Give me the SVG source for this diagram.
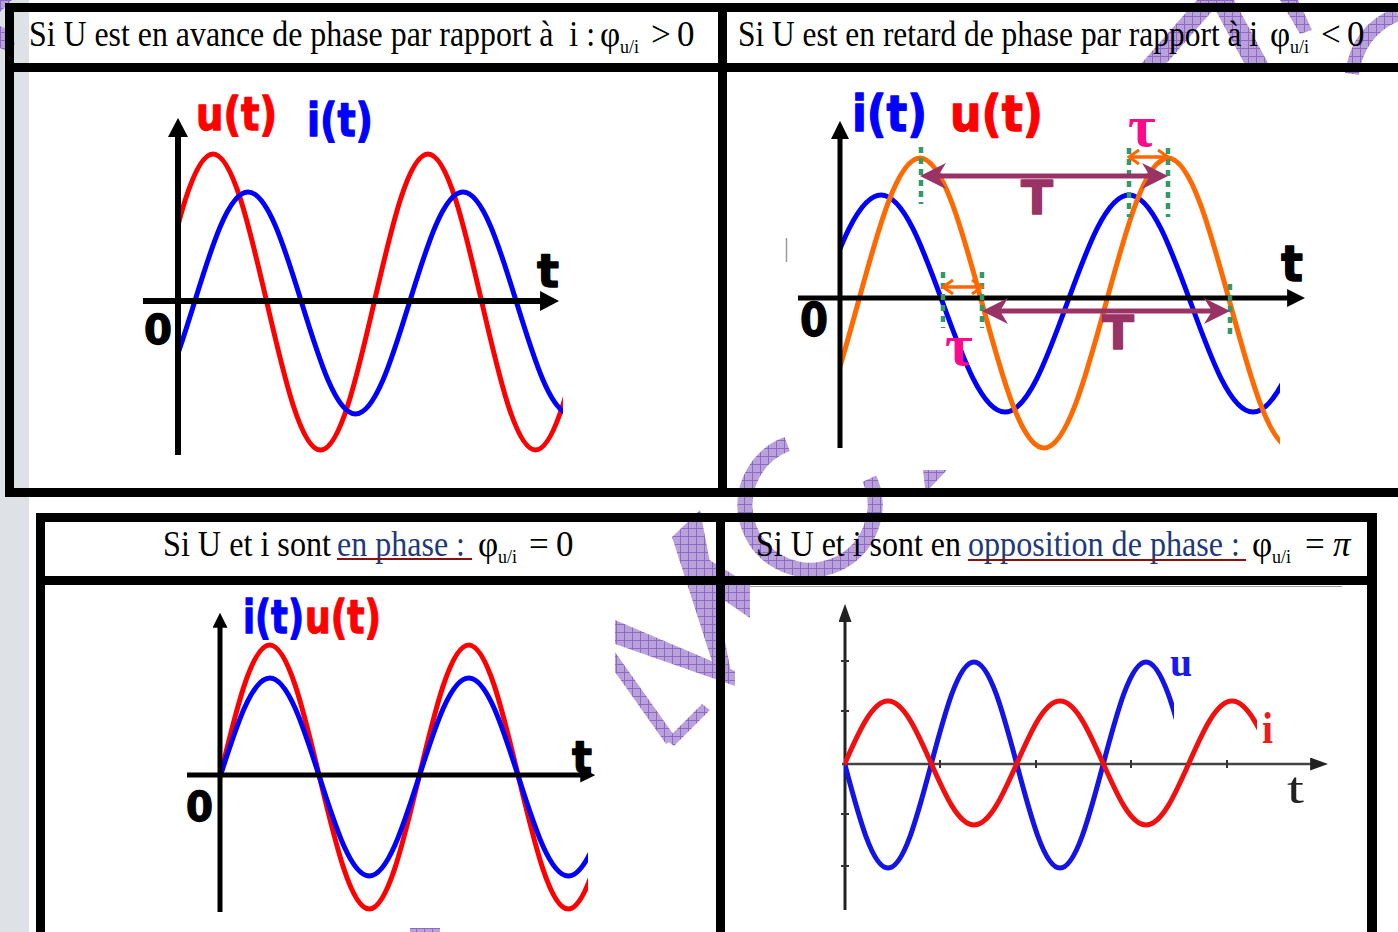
<svg xmlns="http://www.w3.org/2000/svg" width="1398" height="932" viewBox="0 0 1398 932">
<defs>
<style>
.hdr{font-family:"Liberation Serif","Times New Roman",serif;font-size:35px;fill:#000}
.sub{font-size:18px}
.lnk{fill:#1f3a78}
.ul{stroke:#8b1010;stroke-width:2}
.lbl{font-family:"DejaVu Sans",Verdana,sans-serif;font-weight:bold;stroke-width:1.3;stroke-linejoin:round}
.frame{fill:#000}
.axis{stroke:#000;fill:none}
.wave{fill:none;stroke-width:5;stroke-linecap:round;stroke-linejoin:round}
.red{stroke:#ff0000}
.blue{stroke:#0000ff}
.orange{stroke:#ff6a00}
.guide{stroke:#339966;stroke-width:4.5;stroke-dasharray:6 5;fill:none}
.per{stroke:#993366;stroke-width:5;fill:none}
.tau{stroke:#ff6600;stroke-width:3.5;fill:none}
.wm{fill:url(#wm)}
.wms{fill:none;stroke:url(#wm)}
</style>
<pattern id="wm" width="8" height="8" patternUnits="userSpaceOnUse">
<rect width="8" height="8" fill="#b9a2dc"/>
<path d="M0,0.5H8M0.5,0V8" stroke="#8e69c6" stroke-width="1"/>
</pattern>
<marker id="ahL" markerUnits="userSpaceOnUse" viewBox="0 0 10 10" preserveAspectRatio="none" markerWidth="19" markerHeight="20" refX="0.5" refY="5" orient="auto"><path d="M0,0L10,5L0,10Z" fill="#000"/></marker>
<marker id="ahM" markerUnits="userSpaceOnUse" viewBox="0 0 10 10" preserveAspectRatio="none" markerWidth="18" markerHeight="18" refX="0.5" refY="5" orient="auto"><path d="M0,0L10,5L0,10Z" fill="#000"/></marker>
<marker id="ahS" markerUnits="userSpaceOnUse" viewBox="0 0 10 10" preserveAspectRatio="none" markerWidth="15" markerHeight="15" refX="0.5" refY="5" orient="auto"><path d="M0,0L10,5L0,10Z" fill="#000"/></marker>
<marker id="ahT" markerUnits="userSpaceOnUse" viewBox="0 0 10 10" preserveAspectRatio="none" markerWidth="18" markerHeight="13" refX="0.5" refY="5" orient="auto"><path d="M0,0L10,5L0,10Z" fill="#222"/></marker>
<marker id="barb" markerUnits="userSpaceOnUse" viewBox="-28 -14 30 28" markerWidth="30" markerHeight="28" refX="-8" refY="0" orient="auto-start-reverse"><path d="M0,0L-26,-13L-18,0L-26,13Z" fill="#993366"/></marker>
<marker id="openA" markerUnits="userSpaceOnUse" viewBox="-13 -9 15 18" markerWidth="15" markerHeight="18" refX="0" refY="0" orient="auto-start-reverse"><path d="M-10,-7L0,0L-10,7" fill="none" stroke="#ff6600" stroke-width="3"/></marker>
<clipPath id="clipA"><rect x="177" y="80" width="386" height="400"/></clipPath>
<clipPath id="clipB"><rect x="841" y="80" width="439" height="400"/></clipPath>
<clipPath id="clipC"><rect x="219" y="590" width="369" height="340"/></clipPath>
<clipPath id="clipDu"><rect x="844" y="590" width="330" height="320"/></clipPath>
<clipPath id="clipDi"><rect x="844" y="590" width="413" height="320"/></clipPath>
</defs>

<rect x="0" y="0" width="1398" height="932" fill="#fff"/>
<rect x="0" y="0" width="29" height="932" fill="#dee2e6"/>

<g id="watermark">
<path class="wms" stroke-width="15" d="M787.2,444.1A65,65 0 1 0 869.4,478.6"/>
<polygon class="wm" points="923,470 947,470 930,488 925,488"/>
<polygon class="wm" points="672,537 700,510 733,683 717,677"/>
<polygon class="wm" points="703,556 750,585 750,618 712,592"/>
<polygon class="wm" points="615,620 735,671 735,686 615,644"/>
<polygon class="wm" points="615,652 615,672 666,744 676,738"/>
<polygon class="wm" points="666,740 702,704 710,710 674,746"/>
<polygon class="wm" points="1140,65 1165,65 1222,0 1197,0"/>
<polygon class="wm" points="1210,0 1234,0 1268,63 1244,63"/>
<polygon class="wm" points="1280,0 1298,0 1312,30 1300,34"/>
<path class="wms" stroke-width="14" d="M1352,74Q1358,30 1398,14"/>
<polygon class="wm" points="0,0 12,0 0,12"/>
<polygon class="wm" points="0,26 10,30 15,44 8,52 0,48"/>
<rect class="wm" x="410" y="928" width="30" height="4"/>
</g>

<g id="frames">
<rect class="frame" x="5" y="3" width="1393" height="9"/>
<rect class="frame" x="5" y="63" width="1393" height="9"/>
<rect class="frame" x="5" y="3" width="9" height="494"/>
<rect class="frame" x="718" y="3" width="9" height="494"/>
<rect class="frame" x="5" y="488" width="1393" height="9"/>
<rect class="frame" x="36" y="513" width="1341" height="9"/>
<rect class="frame" x="36" y="576" width="1341" height="9"/>
<rect class="frame" x="36" y="513" width="9" height="419"/>
<rect class="frame" x="716" y="513" width="9" height="419"/>
<rect class="frame" x="1367" y="513" width="10" height="419"/>
<line x1="750" y1="586.5" x2="1342" y2="586.5" stroke="#9a9a9a" stroke-width="1"/>
<line x1="786.5" y1="238" x2="786.5" y2="262" stroke="#999" stroke-width="1.5"/>
</g>

<g id="panel-avance">
<text class="hdr" x="29" y="46" textLength="566" lengthAdjust="spacingAndGlyphs">Si U est en avance de phase par rapport à&#160; i :</text>
<text class="hdr" x="600" y="46">φ<tspan class="sub" x="620" y="53">u/i</tspan><tspan x="651" y="46">&gt;</tspan><tspan x="677" y="46">0</tspan></text>
<g clip-path="url(#clipA)">
<path class="wave red" d="M159.25,302C176.78,226.18 193.55,154 213,154C232.45,154 249.22,226.18 266.75,302C284.28,377.82 301.05,450 320.5,450C339.95,450 356.72,377.82 374.25,302C391.78,226.18 408.55,154 428,154C447.45,154 464.22,226.18 481.75,302C499.28,377.82 516.05,450 535.5,450C554.95,450 571.72,377.82 589.25,302"/>
<path class="wave blue" d="M140.5,414C159.95,414 176.72,359.87 194.25,303C211.78,246.13 228.55,192 248,192C267.45,192 284.22,246.13 301.75,303C319.28,359.87 336.05,414 355.5,414C374.95,414 391.72,359.87 409.25,303C426.78,246.13 443.55,192 463,192C482.45,192 499.22,246.13 516.75,303C534.28,359.87 551.05,414 570.5,414"/>
</g>
<line class="axis" x1="178" y1="455" x2="178" y2="136" stroke-width="6" marker-end="url(#ahL)"/>
<line class="axis" x1="143" y1="301" x2="541" y2="301" stroke-width="6" marker-end="url(#ahL)"/>
<text class="lbl" x="196" y="130" font-size="46" fill="#ff0000" stroke="#ff0000" textLength="81" lengthAdjust="spacingAndGlyphs">u(t)</text>
<text class="lbl" x="307" y="136" font-size="46" fill="#0000ff" stroke="#0000ff" textLength="66" lengthAdjust="spacingAndGlyphs">i(t)</text>
<text class="lbl" x="537" y="287" font-size="46" fill="#000" stroke="#000" textLength="22" lengthAdjust="spacingAndGlyphs">t</text>
<text class="lbl" x="144" y="344" font-size="41" fill="#000" stroke="#000" textLength="28" lengthAdjust="spacingAndGlyphs">0</text>
</g>

<g id="panel-retard">
<text class="hdr" x="738" y="46" textLength="520" lengthAdjust="spacingAndGlyphs">Si U est en retard de phase par rapport à i</text>
<text class="hdr" x="1270" y="46">φ<tspan class="sub" x="1290" y="53">u/i</tspan><tspan x="1321" y="46">&lt;</tspan><tspan x="1347" y="46">0</tspan></text>
<g clip-path="url(#clipB)">
<path class="wave blue" d="M819,303.5C839.22,247.92 858.56,195 881,195C903.44,195 922.78,247.92 943,303.5C963.22,359.08 982.56,412 1005,412C1027.44,412 1046.78,359.08 1067,303.5C1087.22,247.92 1106.56,195 1129,195C1151.44,195 1170.78,247.92 1191,303.5C1211.22,359.08 1230.56,412 1253,412C1275.44,412 1294.78,359.08 1315,303.5"/>
<path class="wave orange" d="M796,448C818.44,448 837.78,377.28 858,303C878.22,228.72 897.56,158 920,158C942.44,158 961.78,228.72 982,303C1002.22,377.28 1021.56,448 1044,448C1066.44,448 1085.78,377.28 1106,303C1126.22,228.72 1145.56,158 1168,158C1190.44,158 1209.78,228.72 1230,303C1250.22,377.28 1269.56,448 1292,448"/>
</g>
<line class="axis" x1="840" y1="448" x2="840" y2="138" stroke-width="5" marker-end="url(#ahM)"/>
<line class="axis" x1="798" y1="298" x2="1288" y2="298" stroke-width="5" marker-end="url(#ahM)"/>
<path class="guide" d="M921,147V204M943,272V328M982,272V328M1129,148V217M1168,148V217M1230,284V339"/>
<text class="lbl" x="852" y="131" font-size="50" fill="#0000ff" stroke="#0000ff" textLength="75" lengthAdjust="spacingAndGlyphs">i(t)</text>
<text class="lbl" x="950" y="131" font-size="50" fill="#ff0000" stroke="#ff0000" textLength="93" lengthAdjust="spacingAndGlyphs">u(t)</text>
<text class="lbl" x="1281" y="281" font-size="50" fill="#000" stroke="#000" textLength="22" lengthAdjust="spacingAndGlyphs">t</text>
<text class="lbl" x="800" y="336" font-size="47" fill="#000" stroke="#000" textLength="28" lengthAdjust="spacingAndGlyphs">0</text>
<text class="lbl" x="1021" y="214" font-size="46" fill="#993366" stroke="#993366" textLength="32" lengthAdjust="spacingAndGlyphs">T</text>
<text class="lbl" x="1102" y="349" font-size="46" fill="#993366" stroke="#993366" textLength="32" lengthAdjust="spacingAndGlyphs">T</text>
<text x="1128" y="146" font-family="'Liberation Serif','Times New Roman',serif" font-weight="bold" font-size="60" fill="#ff0a8c">τ</text>
<text x="945" y="365" font-family="'Liberation Serif','Times New Roman',serif" font-weight="bold" font-size="60" fill="#ff0a8c">τ</text>
</g>

<g id="panel-phase">
<text class="hdr" x="163" y="556" textLength="168" lengthAdjust="spacingAndGlyphs">Si U et i sont</text>
<text class="hdr lnk" x="337" y="556" textLength="128" lengthAdjust="spacingAndGlyphs">en phase :</text>
<line class="ul" x1="337" y1="559" x2="472" y2="559"/>
<text class="hdr" x="478" y="556">φ<tspan class="sub" x="498" y="563">u/i</tspan><tspan x="529" y="556">=</tspan><tspan x="556" y="556">0</tspan></text>
<g clip-path="url(#clipC)">
<path class="wave red" d="M220,777C236.22,709.38 251.75,645 269.75,645C287.75,645 303.28,709.38 319.5,777C335.72,844.62 351.25,909 369.25,909C387.25,909 402.78,844.62 419,777C435.22,709.38 450.75,645 468.75,645C486.75,645 502.28,709.38 518.5,777C534.72,844.62 550.25,909 568.25,909C586.25,909 601.78,844.62 618,777"/>
<path class="wave blue" d="M220,777C236.22,726.28 251.75,678 269.75,678C287.75,678 303.28,726.28 319.5,777C335.72,827.72 351.25,876 369.25,876C387.25,876 402.78,827.72 419,777C435.22,726.28 450.75,678 468.75,678C486.75,678 502.28,726.28 518.5,777C534.72,827.72 550.25,876 568.25,876C586.25,876 601.78,827.72 618,777"/>
</g>
<line class="axis" x1="220" y1="912" x2="220" y2="627" stroke-width="5" marker-end="url(#ahS)"/>
<line class="axis" x1="187" y1="775" x2="581" y2="775" stroke-width="5" marker-end="url(#ahS)"/>
<text class="lbl" x="243" y="633" font-size="47" fill="#0000ff" stroke="#0000ff" textLength="61" lengthAdjust="spacingAndGlyphs">i(t)</text>
<text class="lbl" x="305" y="633" font-size="47" fill="#ff0000" stroke="#ff0000" textLength="76" lengthAdjust="spacingAndGlyphs">u(t)</text>
<text class="lbl" x="572" y="773" font-size="44" fill="#000" stroke="#000" textLength="20" lengthAdjust="spacingAndGlyphs">t</text>
<text class="lbl" x="186" y="821" font-size="41" fill="#000" stroke="#000" textLength="27" lengthAdjust="spacingAndGlyphs">0</text>
</g>

<g id="panel-opposition">
<text class="hdr" x="756" y="556" textLength="205" lengthAdjust="spacingAndGlyphs">Si U et i sont en</text>
<text class="hdr lnk" x="968" y="556" textLength="272" lengthAdjust="spacingAndGlyphs">opposition de phase :</text>
<line class="ul" x1="968" y1="560" x2="1246" y2="560"/>
<text class="hdr" x="1252" y="556">φ<tspan class="sub" x="1272" y="563">u/i</tspan><tspan x="1305" y="556">=</tspan><tspan x="1333" y="556" font-style="italic">π</tspan></text>
<line x1="845" y1="910" x2="845" y2="621" stroke="#222" stroke-width="3" marker-end="url(#ahT)"/>
<line x1="842" y1="764" x2="1311" y2="764" stroke="#444" stroke-width="2.5" marker-end="url(#ahT)"/>
<path d="M841,661H849M841,711H849M841,814H849M841,866H849M940,760V768M1036,760V768M1131,760V768M1227,760V768" stroke="#333" stroke-width="2"/>
<g clip-path="url(#clipDu)">
<path class="wave" stroke="#1414e6" d="M845,765C859.02,817.77 872.44,868 888,868C903.56,868 916.98,817.77 931,765C945.02,712.23 958.44,662 974,662C989.56,662 1002.98,712.23 1017,765C1031.02,817.77 1044.44,868 1060,868C1075.56,868 1088.98,817.77 1103,765C1117.02,712.23 1130.44,662 1146,662C1161.56,662 1174.98,712.23 1189,765"/>
</g>
<g clip-path="url(#clipDi)">
<path class="wave" stroke="#f01010" d="M845,763C859.02,731.24 872.44,701 888,701C903.56,701 916.98,731.24 931,763C945.02,794.76 958.44,825 974,825C989.56,825 1002.98,794.76 1017,763C1031.02,731.24 1044.44,701 1060,701C1075.56,701 1088.98,731.24 1103,763C1117.02,794.76 1130.44,825 1146,825C1161.56,825 1174.98,794.76 1189,763C1203.02,731.24 1216.44,701 1232,701C1247.56,701 1260.98,731.24 1275,763"/>
</g>
<text x="1170" y="676" font-family="'Liberation Serif','Times New Roman',serif" font-weight="bold" font-size="42" fill="#1a1aee" textLength="22" lengthAdjust="spacingAndGlyphs">u</text>
<text x="1262" y="743" font-family="'Liberation Serif','Times New Roman',serif" font-weight="bold" font-size="44" fill="#ee1c1c" textLength="11" lengthAdjust="spacingAndGlyphs">i</text>
<text x="1287" y="803" font-family="'Liberation Serif','Times New Roman',serif" font-size="44" fill="#222" textLength="17" lengthAdjust="spacingAndGlyphs">t</text>
</g>

<g id="connectors">
<line class="per" x1="928" y1="176" x2="1160" y2="176" marker-start="url(#barb)" marker-end="url(#barb)"/>
<line class="per" x1="990" y1="311" x2="1222" y2="311" marker-start="url(#barb)" marker-end="url(#barb)"/>
<line class="tau" x1="1129" y1="157" x2="1168" y2="157" marker-start="url(#openA)" marker-end="url(#openA)"/>
<line class="tau" x1="943" y1="287" x2="982" y2="287" marker-start="url(#openA)" marker-end="url(#openA)"/>
</g>
</svg>
